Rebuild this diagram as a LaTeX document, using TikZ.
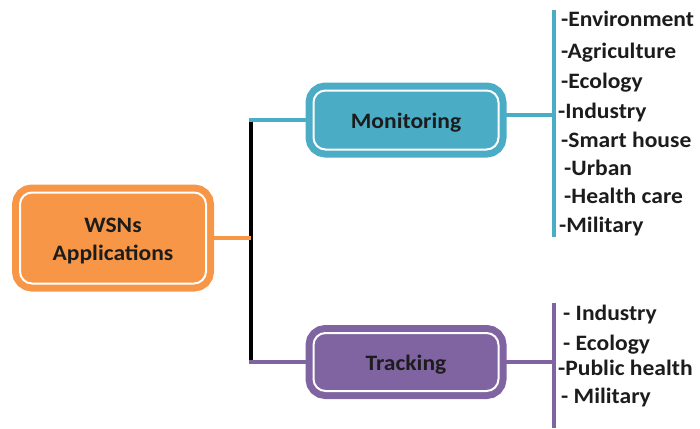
\documentclass[tikz,border=0pt]{standalone}
\usepackage{fontspec}
\setmainfont[FakeStretch=1.07]{Carlito}
\definecolor{corange}{HTML}{F79646}
\definecolor{cblue}{HTML}{4BACC6}
\definecolor{cpurple}{HTML}{8064A2}
\definecolor{ctext}{HTML}{1C1C1C}
\newcommand{\lowtxt}[1]{\raisebox{-3pt}[\height][\depth]{#1}}
\begin{document}
\begin{tikzpicture}[x=1pt,y=-1pt,
  box/.style={draw=#1, fill=#1, double=white, double distance=2pt, line width=7pt,
    rounded corners=12pt, inner sep=0pt, align=center, text=ctext,
    font=\fontsize{22}{28}\selectfont\bfseries},
  link/.style={draw=#1, line width=4pt},
  bar/.style={draw=#1, line width=4.5pt},
  trunk/.style={draw=black, line width=4.5pt},
  item/.style={anchor=base west, inner sep=0pt, text=ctext,
    font=\fontsize{22}{24}\selectfont\bfseries}]
\useasboundingbox (0,0) rectangle (700,428);

% coordinates of the junctions
\coordinate (jtop) at (251,120);
\coordinate (jmid) at (251,238);
\coordinate (jbot) at (251,362);
\coordinate (mjoin) at (554,115);
\coordinate (mtop) at (554,10);
\coordinate (mbot) at (554,237);
\coordinate (tjoin) at (554,362);
\coordinate (ttop) at (554,303);
\coordinate (tbot) at (554,428);

% connectors (under the boxes)
\draw[trunk] (jtop) -- (jbot);
\draw[link=cblue] ([xshift=-2pt]jtop) -- (406,120);
\draw[link=cpurple] ([xshift=-2pt]jbot) -- (406,362);
\draw[link=corange] (113,238) -- (jmid);

% boxes
\node[box=corange, minimum width=186pt, minimum height=91pt] (wsn) at (113,238) {\lowtxt{WSNs}\\\lowtxt{Applications}};
\node[box=cblue, minimum width=185pt, minimum height=59pt] (mon) at (406,120) {\lowtxt{Monitoring}};
\node[box=cpurple, minimum width=185pt, minimum height=58pt] (trk) at (406,362) {\lowtxt{Tracking}};

% right side connectors and bars
\draw[link=cblue] (mon.east |- mjoin) -- (mjoin);
\draw[bar=cblue] (mtop) -- (mbot);
\draw[link=cpurple] (trk.east) -- (tjoin);
\draw[bar=cpurple] (ttop) -- (tbot);

% monitoring items
\node[item] (m1) at (561,27) {-Environment};
\node[item] (m2) at (561,58) {-Agriculture};
\node[item] (m3) at (561,88) {-Ecology};
\node[item] (m4) at (558,118) {-Industry};
\node[item] (m5) at (561,147) {-Smart house};
\node[item] (m6) at (564,175) {-Urban};
\node[item] (m7) at (564,203) {-Health care};
\node[item] (m8) at (559,232) {-Military};

% tracking items
\node[item] (t1) at (563,320) {- Industry};
\node[item] (t2) at (563,350) {- Ecology};
\node[item] (t3) at (558,375) {-Public health};
\node[item] (t4) at (561,403) {- Military};
\end{tikzpicture}
\end{document}
